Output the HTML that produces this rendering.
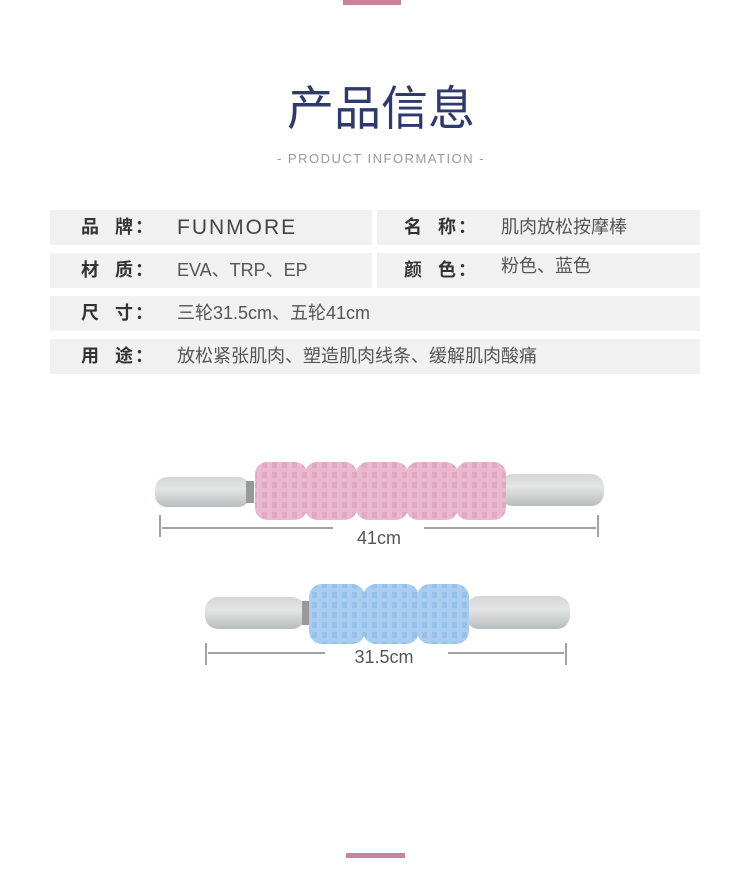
<!DOCTYPE html>
<html><head><meta charset="utf-8"><style>
body{margin:0;width:750px;height:889px;background:#fff;position:relative;font-family:"Liberation Sans","Noto Sans CJK SC",sans-serif;overflow:hidden}
.a{position:absolute}
.row{position:absolute;background:#f1f1f1;height:35px;line-height:35px;font-size:18px;color:#444}
.k{position:absolute;left:31px;color:#333;font-weight:bold;letter-spacing:2px}
.v{position:absolute;left:127px;color:#555}
</style></head><body>
<div class="a" style="left:343px;top:0;width:58px;height:5px;background:#c7849f"></div>
<div class="a" style="left:0;width:750px;top:70px;text-align:center;font-size:47px;color:#2e3a6c;padding-left:6px">产品信息</div>
<div class="a" style="left:0;width:750px;top:151px;text-align:center;font-size:13px;color:#999;letter-spacing:1.5px;padding-left:6px">- PRODUCT INFORMATION -</div>

<div class="row" style="left:50px;top:210px;width:322px"><span class="k">品&nbsp;&nbsp;牌：</span><span class="v" style="font-size:21px;letter-spacing:2px;color:#444">FUNMORE</span></div>
<div class="row" style="left:377px;top:210px;width:323px"><span class="k" style="left:27px">名&nbsp;&nbsp;称：</span><span class="v" style="left:124px">肌肉放松按摩棒</span></div>
<div class="row" style="left:50px;top:253px;width:322px"><span class="k">材&nbsp;&nbsp;质：</span><span class="v">EVA、TRP、EP</span></div>
<div class="row" style="left:377px;top:253px;width:323px"><span class="k" style="left:27px">颜&nbsp;&nbsp;色：</span><span class="v" style="left:124px;top:-4px">粉色、蓝色</span></div>
<div class="row" style="left:50px;top:296px;width:650px"><span class="k">尺&nbsp;&nbsp;寸：</span><span class="v">三轮31.5cm、五轮41cm</span></div>
<div class="row" style="left:50px;top:339px;width:650px"><span class="k">用&nbsp;&nbsp;途：</span><span class="v">放松紧张肌肉、塑造肌肉线条、缓解肌肉酸痛</span></div>

<svg class="a" style="left:0;top:0" width="750" height="889">
<defs>
<linearGradient id="g" x1="0" y1="0" x2="0" y2="1"><stop offset="0" stop-color="#d4d6d6"/><stop offset=".4" stop-color="#e4e6e6"/><stop offset="1" stop-color="#b9bcbc"/></linearGradient>
<pattern id="pp" width="10" height="10" patternUnits="userSpaceOnUse"><rect width="10" height="10" fill="#eab9d0"/><rect x="2" y="2" width="5" height="6" fill="#e0a9c2"/></pattern>
<pattern id="bp" width="10" height="10" patternUnits="userSpaceOnUse"><rect width="10" height="10" fill="#a9cdf0"/><rect x="2" y="2" width="5" height="6" fill="#96c0e8"/></pattern>
</defs>
<rect x="155" y="477" width="95" height="30" rx="12" fill="url(#g)"/>
<rect x="500" y="474" width="104" height="32" rx="13" fill="url(#g)"/>
<rect x="246" y="481" width="8" height="22" fill="#999"/>
<g fill="url(#pp)">
<rect x="255" y="462" width="52" height="58" rx="12"/>
<rect x="305" y="462" width="52" height="58" rx="12"/>
<rect x="356" y="462" width="52" height="58" rx="12"/>
<rect x="406" y="462" width="52" height="58" rx="12"/>
<rect x="456" y="462" width="50" height="58" rx="12"/>
</g>
<g stroke="#444" stroke-width="1" fill="none">
<line x1="160" y1="515" x2="160" y2="537"/><line x1="598" y1="515" x2="598" y2="537"/>
<line x1="162" y1="528" x2="333" y2="528"/><line x1="424" y1="528" x2="596" y2="528"/>
<line x1="206" y1="643" x2="206" y2="665"/><line x1="566" y1="643" x2="566" y2="665"/>
<line x1="208" y1="653" x2="325" y2="653"/><line x1="448" y1="653" x2="564" y2="653"/>
</g>
<text x="379" y="544" font-size="18" fill="#555" text-anchor="middle" font-family="Liberation Sans,sans-serif">41cm</text>
<text x="384" y="663" font-size="18" fill="#555" text-anchor="middle" font-family="Liberation Sans,sans-serif">31.5cm</text>
<rect x="205" y="597" width="100" height="32" rx="13" fill="url(#g)"/>
<rect x="466" y="596" width="104" height="33" rx="13" fill="url(#g)"/>
<rect x="302" y="601" width="8" height="24" fill="#999"/>
<g fill="url(#bp)">
<rect x="309" y="584" width="56" height="60" rx="13"/>
<rect x="363" y="584" width="56" height="60" rx="13"/>
<rect x="417" y="584" width="52" height="60" rx="13"/>
</g>
</svg>
<div class="a" style="left:346px;top:853px;width:59px;height:5px;background:#c7849f"></div>
</body></html>
